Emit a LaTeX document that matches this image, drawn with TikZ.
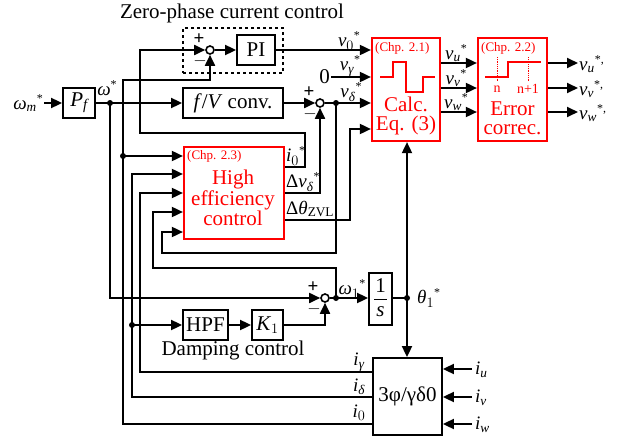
\documentclass[tikz,border=0pt]{standalone}
\usepackage{amsmath}
\usepackage{fontspec}
\setmainfont{Liberation Serif}
\usetikzlibrary{arrows.meta}
\newcommand\ti[1]{\textit{#1}}
\newcommand\st{\raisebox{7pt}{\fontsize{12}{12}\selectfont *}}
\begin{document}
\begin{tikzpicture}[x=1pt,y=-1pt,
  font=\fontsize{21}{22}\selectfont,
  wire/.style={line width=1.8pt},
  arr/.style={line width=1.8pt,-{Triangle[length=11pt,width=10pt]}},
  blk/.style={draw,line width=1.8pt,inner sep=0pt,minimum height=30pt},
  redblk/.style={draw=red,line width=2.2pt,inner sep=0pt},
  sumj/.style={circle,draw,line width=1.6pt,fill=white,inner sep=0pt,minimum size=8pt},
  jdot/.style={circle,fill,inner sep=0pt,minimum size=6pt},
  sgn/.style={font=\fontsize{19}{19}\selectfont\bfseries,inner sep=0pt},
  lbl/.style={inner sep=1pt,font=\fontsize{19}{20}\selectfont},
  chp/.style={text=red,font=\fontsize{13}{13}\selectfont,inner sep=0pt,anchor=north west},
  redtxt/.style={text=red,font=\fontsize{21}{19}\selectfont,align=center,inner sep=0pt}
]
\useasboundingbox (0,0) rectangle (621,439);

% title
\node (title) at (232,13) {Zero-phase current control};
\node[draw,dashed,line width=1.6pt,minimum width=100pt,minimum height=45pt,inner sep=0pt] (zbox) at (233,50.5) {};

% blocks
\node[blk,minimum width=32pt] (Pf) at (79,103) {\ti{P}$_{\textit{f}}$};
\node[blk,minimum width=100pt] (fV) at (233,103) {\ti{f}/\ti{V} conv.};
\node[blk,minimum width=38pt] (PI) at (256,50) {PI};
\node[sumj] (s1) at (210,50) {};
\node[sumj] (s2) at (320,103) {};
\node[jdot] (dw) at (110,103) {};
\node[jdot] (dvd) at (336,103) {};

\node[redblk,minimum width=68pt,minimum height=103pt] (calc) at (406,89.5) {};
\node[redblk,minimum width=69pt,minimum height=103pt] (err) at (512.5,89.5) {};
\node[redblk,minimum width=100pt,minimum height=92pt] (he) at (234,193) {};

\node[blk,minimum width=23pt,minimum height=52pt] (ints) at (380.5,299) {};
\node[sumj] (s3) at (325,298) {};
\node[jdot] (dw1) at (336,298) {};
\node[jdot] (dth) at (407,298) {};
\node[blk,minimum width=45pt] (hpf) at (205.5,325) {HPF};
\node[blk,minimum width=31pt] (k1) at (267.5,325) {\ti{K}$_{1}$};
\node[draw,line width=1.8pt,minimum width=69pt,minimum height=77pt,inner sep=0pt] (tr) at (407.5,396.5) {3φ/γδ0};
\node (damp) at (233,350) {Damping control};

% 1/s content
\node[inner sep=0pt] (one) at (380.5,286) {1};
\node[inner sep=0pt] (ess) at (380.5,312) {\ti{s}};
\draw[line width=1pt] (374,299) -- (387,299);

% red block contents
\node[chp] (c21) at (375,42) {(Chp. 2.1)};
\draw[red,line width=2pt] (380,77) -- (393,77) -- (393,62) -- (406,62) -- (406,92) -- (423,92) -- (423,77) -- (435,77);
\node[redtxt] (calct) at (406,116) {Calc.\\Eq. (3)};
\node[chp] (c22) at (481,42) {(Chp. 2.2)};
\draw[red,line width=2pt] (485,77) -- (508,77) -- (508,62) -- (541,62);
\draw[red,line width=0.8pt,densely dotted] (497,57) -- (497,82);
\draw[red,line width=0.8pt,densely dotted] (528,57) -- (528,82);
\node[text=red,font=\fontsize{14}{14}\selectfont,inner sep=0pt] (nl) at (497,89) {n};
\node[text=red,font=\fontsize{14}{14}\selectfont,inner sep=0pt] (n1l) at (528,89) {n+1};
\node[redtxt] (errt) at (512.5,118) {Error\\correc.};
\node[chp] (c23) at (187,150) {(Chp. 2.3)};
\node[redtxt] (het) at (233,198) {High\\efficiency\\control};

% sum signs
\node[sgn] (p1) at (199,39) {+};
\node[sgn] (m1) at (200,61) {$-$};
\node[sgn] (p2) at (309,92) {+};
\node[sgn] (m2) at (310,114) {$-$};
\node[sgn] (p3) at (313,287) {+};
\node[sgn] (m3) at (314,309) {$-$};

% coordinates
\coordinate (wmin) at (44,103);
\coordinate (zin) at (331,77);
\foreach \n/\y in {u/369,v/397,w/424} {\coordinate (i\n in) at (472,\y);}
\foreach \n/\y in {u/63,v/88,w/112} {\coordinate (o\n) at (578,\y);}

% input labels
\node[anchor=east,lbl] (wml) at (wmin) {\ti{ω}$_{\textit{m}}$\st};
\node[lbl] (wl) at (107,88) {\ti{ω}\st};
\node[anchor=east,inner sep=1pt] (zero) at (zin) {0};

% main wires
\draw[arr] (wmin) -- (Pf.west);
\draw[wire] (Pf.east) -- (dw.center);
\draw[arr] (dw.center) -- (fV.west);
\draw[arr] (fV.east) -- (s2.west);
\draw[wire] (s2.east) -- (dvd.center);
\draw[arr] (dvd.center) -- (calc.west |- dvd);
\draw[arr] (s1.east) -- (PI.west);
\draw[arr] (PI.east) -- (calc.west |- PI);
\draw[arr] (zin) -- (calc.west |- zin);

% omega* to bottom sum
\draw[arr] (dw.center) -- (110,298) -- (s3.west);
% v_delta feedback into HE
\draw[arr] (dvd.center) -- (336,253) -- (162,253) -- (162,232) -- (he.west |- 0,232);
% delta v_delta*
\draw[arr] (he.east |- 0,193) -- (320,193) -- (s2.south);
% delta theta ZVL
\draw[arr] (he.east |- 0,220) -- (350,220) -- (350,129) -- (calc.west |- 0,129);
% i0*
\draw[arr] (he.east |- 0,167) -- (305,167) -- (305,133) -- (140,133) -- (140,50) -- (s1.west);
% i0 feedback
\draw[arr] (tr.west |- 0,424) -- (123,424) -- (123,80) -- (210,80) -- (s1.south);
\node[jdot] (d0) at (123,156) {};
\draw[arr] (d0.center) -- (he.west |- d0);
% i delta
\draw[arr] (tr.west |- 0,397) -- (132,397) -- (132,174) -- (he.west |- 0,174);
\node[jdot] (dd) at (132,325) {};
\draw[arr] (dd.center) -- (hpf.west);
% i gamma
\draw[arr] (tr.west |- 0,372) -- (140,372) -- (140,193) -- (he.west |- 0,193);
% omega1 feedback
\draw[arr] (dw1.center) -- (336,268) -- (153,268) -- (153,212) -- (he.west |- 0,212);
% damping
\draw[arr] (hpf.east) -- (k1.west);
\draw[arr] (k1.east) -- (325,325) -- (s3.south);
\draw[wire] (s3.east) -- (dw1.center);
\draw[arr] (dw1.center) -- (ints.west |- dw1);
\draw[wire] (ints.east |- dth) -- (dth.center);
\draw[arr] (dth.center) -- (calc.south -| dth);
\draw[arr] (dth.center) -- (tr.north -| dth);

% calc -> err -> outputs
\foreach \n/\y in {u/63,v/88,w/112} {
  \draw[arr] (calc.east |- 0,\y) -- (err.west |- 0,\y);
  \draw[arr] (err.east |- 0,\y) -- (o\n);
}
\foreach \n in {u,v,w} {\draw[arr] (i\n in) -- (tr.east |- i\n in);}

% signal labels
\node[lbl] (lv0) at (349,41) {\ti{v}$_{0}$\st};
\node[lbl] (lvg) at (350,66) {\ti{v}$_{\textit{γ}}$\st};
\node[lbl] (lvd) at (351,92) {\ti{v}$_{\textit{δ}}$\st};
\node[lbl] (lvu) at (456,53) {\ti{v}$_{\textit{u}}$\st};
\node[lbl] (lvv) at (456,78) {\ti{v}$_{\textit{v}}$\st};
\node[lbl] (lvw) at (456,102) {\ti{v}$_{\textit{w}}$\st};
\node[anchor=west,lbl] (ovu) at (578,64) {\ti{v}$_{\textit{u}}$\st\raisebox{7pt}{\fontsize{12}{12}\selectfont ,}};
\node[anchor=west,lbl] (ovv) at (578,89) {\ti{v}$_{\textit{v}}$\st\raisebox{7pt}{\fontsize{12}{12}\selectfont ,}};
\node[anchor=west,lbl] (ovw) at (578,113) {\ti{v}$_{\textit{w}}$\st\raisebox{7pt}{\fontsize{12}{12}\selectfont ,}};
\node[anchor=west,lbl] (li0s) at (285,156) {\ti{i}$_{0}$\st};
\node[anchor=west,lbl] (ldv) at (285,182) {Δ\ti{v}$_{\textit{δ}}$\st};
\node[anchor=west,lbl] (ldt) at (285,209) {Δ\ti{θ}$_{\text{ZVL}}$};
\node[lbl] (lw1) at (352,289) {\ti{ω}$_{1}$\st};
\node[anchor=west,lbl] (lth) at (416,298) {\ti{θ}$_{1}$\st};
\node[lbl] (lig) at (359,362) {\ti{i}$_{\textit{γ}}$};
\node[lbl] (lid) at (359,387) {\ti{i}$_{\textit{δ}}$};
\node[lbl] (li0) at (359,413) {\ti{i}$_{0}$};
\node[anchor=west,lbl] (liu) at (474,370) {\ti{i}$_{\textit{u}}$};
\node[anchor=west,lbl] (liv) at (474,398) {\ti{i}$_{\textit{v}}$};
\node[anchor=west,lbl] (liw) at (474,425) {\ti{i}$_{\textit{w}}$};
\end{tikzpicture}
\end{document}
